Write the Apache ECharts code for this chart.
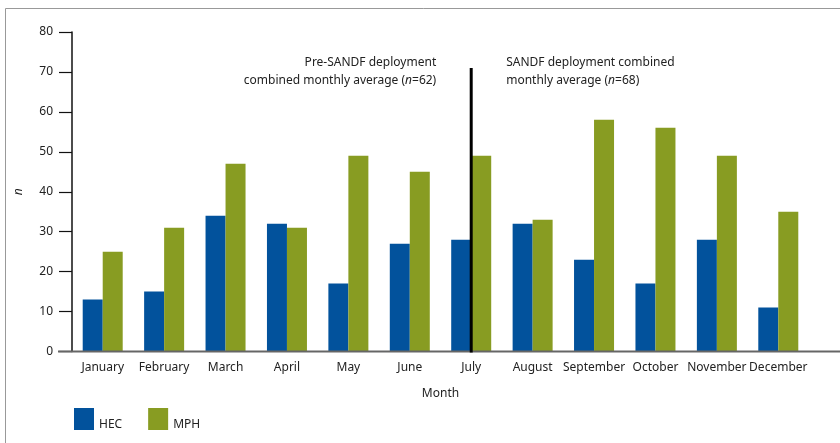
<!DOCTYPE html>
<html>
<head>
<meta charset="utf-8">
<script src="https://cdn.jsdelivr.net/npm/echarts@6/dist/echarts.min.js"></script>
<style>
  html, body { margin: 0; padding: 0; background: #fff; }
  #ech { width: 840px; height: 443px; }
</style>
</head>
<body>
<div id="ech"></div>
<script>
var months = ['January', 'February', 'March', 'April', 'May', 'June', 'July',
              'August', 'September', 'October', 'November', 'December'];
var hec = [13, 15, 34, 32, 17, 27, 28, 32, 23, 17, 28, 11];
var mph = [25, 31, 47, 31, 49, 45, 49, 33, 58, 56, 49, 35];
var yTicks = [0, 10, 20, 30, 40, 50, 60, 70, 80];
var splitMonth = 'July';
var splitTop = 71;

var font = '"Noto Sans", sans-serif';
var myChart = echarts.init(document.getElementById('ech'));

var option = {
    animation: false,
    textStyle: { fontFamily: font },
    grid: { left: 72, right: 31, top: 32, bottom: 91.5 },
    legend: {
        left: 74, top: 408,
        padding: 0,
        itemWidth: 20, itemHeight: 22, itemGap: 26,
        icon: 'rect',
        formatter: '{a|{name}}',
        textStyle: {
            fontSize: 12, color: '#222',
            rich: { a: { fontSize: 12, color: '#222', padding: [11, 0, 0, 0] } }
        },
        data: ['HEC', 'MPH']
    },
    xAxis: {
        type: 'category',
        data: months,
        name: 'Month',
        nameLocation: 'middle',
        nameGap: 36,
        nameTextStyle: { fontSize: 12, color: '#222' },
        axisLine: { show: false },
        axisTick: { show: false },
        axisLabel: { fontSize: 12, color: '#222', margin: 10, interval: 0 }
    },
    yAxis: {
        type: 'value',
        min: yTicks[0],
        max: yTicks[yTicks.length - 1],
        interval: 10,
        name: 'n',
        nameLocation: 'middle',
        nameRotate: 90,
        nameGap: 47,
        nameTextStyle: { fontSize: 12, fontStyle: 'italic', color: '#222' },
        axisLine: { show: true, lineStyle: { color: '#111', width: 1.5 } },
        axisTick: { show: true, length: 13, lineStyle: { color: '#111', width: 1.2 } },
        axisLabel: { fontSize: 12, color: '#222', margin: 19 },
        splitLine: { show: false }
    },
    series: [
        {
            name: 'HEC',
            type: 'bar',
            data: hec,
            barWidth: 20,
            barGap: '0%',
            itemStyle: { color: '#02529c' }
        },
        {
            name: 'MPH',
            type: 'bar',
            data: mph,
            barWidth: 20,
            barGap: '0%',
            itemStyle: { color: '#889c22' }
        }
    ]
};
myChart.setOption(option);

// baseline runs past the plot on both sides; divider, frame and annotations
var baseY = myChart.convertToPixel({ yAxisIndex: 0 }, 0);
var topY = myChart.convertToPixel({ yAxisIndex: 0 }, splitTop);
var splitX = myChart.convertToPixel({ xAxisIndex: 0 }, splitMonth);
var rich = {
    t: { fontSize: 12, fontFamily: font, fill: '#222' },
    i: { fontSize: 12, fontFamily: font, fontStyle: 'italic', fill: '#222' }
};
myChart.setOption({
    graphic: [
        {
            type: 'rect', silent: true,
            shape: { x: 5.5, y: 8.5, width: 900, height: 500 },
            style: { fill: null, stroke: '#999', lineWidth: 1 }
        },
        {
            type: 'line', silent: true, z: 10,
            shape: { x1: 58, y1: baseY, x2: 840, y2: baseY },
            style: { stroke: '#666', lineWidth: 2 }
        },
        {
            type: 'line', silent: true, z: 11,
            shape: { x1: splitX, y1: topY, x2: splitX, y2: baseY + 1 },
            style: { stroke: '#000', lineWidth: 3 }
        },
        {
            type: 'text', silent: true,
            x: splitX - 35, y: 54,
            style: {
                text: '{t|Pre-SANDF deployment}\n{t|combined monthly average (}{i|n}{t|=62)}',
                align: 'right', lineHeight: 18, rich: rich
            }
        },
        {
            type: 'text', silent: true,
            x: splitX + 35, y: 54,
            style: {
                text: '{t|SANDF deployment combined}\n{t|monthly average (}{i|n}{t|=68)}',
                align: 'left', lineHeight: 18, rich: rich
            }
        }
    ]
});
</script>
</body>
</html>
